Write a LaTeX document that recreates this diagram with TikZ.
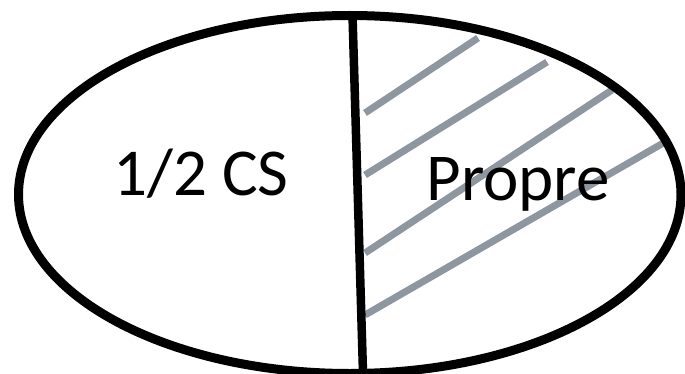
\documentclass[tikz,border=0pt]{standalone}
\usepackage{fontspec}
\setmainfont{Carlito}
\usetikzlibrary{shapes.geometric}
\begin{document}
\begin{tikzpicture}[x=1pt,y=1pt,
  outline/.style={draw=black,line width=9pt},
  divider/.style={draw=black,line width=8.5pt},
  hatch/.style={draw=hatchgray,line width=7pt},
  label/.style={font=\fontsize{67}{70}\selectfont,anchor=base,inner sep=0pt}]
\definecolor{hatchgray}{HTML}{8E979F}
\useasboundingbox (0,0) rectangle (685,373);
\fill[white] (0,0) rectangle (685,373);
% hatch lines
\coordinate (h1a) at (365,260); \coordinate (h1b) at (478,335);
\coordinate (h2a) at (365,198); \coordinate (h2b) at (547,311);
\coordinate (h3a) at (365,120); \coordinate (h3b) at (612,283);
\coordinate (h4a) at (365,58);  \coordinate (h4b) at (665,231);
\draw[hatch] (h1a) -- (h1b);
\draw[hatch] (h2a) -- (h2b);
\draw[hatch] (h3a) -- (h3b);
\draw[hatch] (h4a) -- (h4b);
% ellipse
\node[outline,ellipse,minimum width=662.5pt,minimum height=358pt,inner sep=0pt] (ell) at (349.75,178.5) {};
% divider
\coordinate (dtop) at (352.5,358);
\coordinate (dbot) at (363,0);
\draw[divider] (dtop) -- (dbot);
% labels
\node[label] (cs) at (201,178) {1/2 CS};
\node[label] (propre) at (518,173) {Propre};
\end{tikzpicture}
\end{document}
